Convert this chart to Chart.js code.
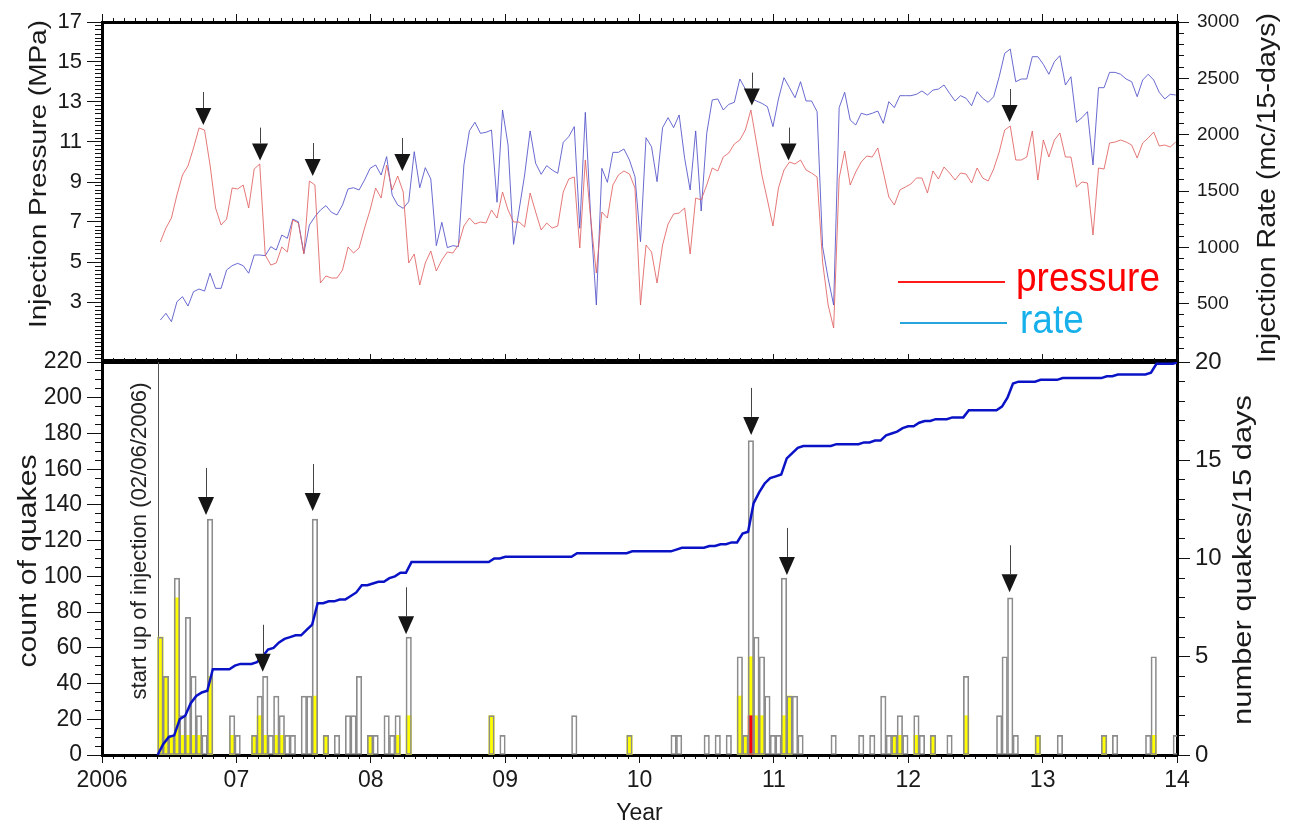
<!DOCTYPE html>
<html>
<head>
<meta charset="UTF-8">
<title>Injection pressure, rate and quakes</title>
<script src="https://cdn.jsdelivr.net/npm/chart.js/dist/chart.umd.min.js"></script>
<style>
  body { margin: 0; background: #fff; }
  #wrap { position: relative; width: 1292px; height: 828px; }
  canvas { position: absolute; left: 0; top: 0; }
</style>
</head>
<body>
<div id="wrap">
  <canvas id="topChart" width="1292" height="828"></canvas>
  <canvas id="bottomChart" width="1292" height="828"></canvas>
</div>
<script>
// ---------- data ----------
const binStart = 2006.414;   // 1 June 2006, start of the 15-day bins
const binDays = 15;

// injection pressure (MPa), one value per 15-day bin
const pressure = [6.0,6.7,7.2,8.35,9.35,9.8,10.7,11.7,11.6,9.85,
  7.7,6.85,7.15,8.7,8.65,8.85,7.7,9.65,9.9,5.35,
  4.85,4.95,5.75,5.5,7.1,6.95,5.4,9.05,8.85,3.95,
  4.3,4.2,4.2,4.6,5.75,5.45,5.7,6.7,7.6,8.7,
  8.2,9.85,8.6,9.3,8.5,4.95,5.4,3.85,4.95,5.55,
  4.55,5.1,5.5,5.45,5.85,6.8,7.2,6.9,7.0,6.95,
  7.6,7.2,8.5,7.6,7.0,7.0,6.75,8.45,7.5,6.6,
  6.95,6.7,6.8,8.5,9.15,9.25,5.7,10.1,7.1,4.45,
  7.5,7.2,8.85,9.35,9.55,9.4,8.7,2.85,5.85,5.5,
  3.95,5.85,6.9,7.4,7.45,7.7,5.4,8.2,8.1,8.85,
  9.7,9.55,10.25,10.45,10.9,11.1,11.6,12.6,11.0,9.35,
  8.1,6.8,8.7,9.6,10.0,9.9,10.1,9.6,9.45,9.25,
  5.0,2.85,1.7,9.2,10.55,8.85,9.5,10.0,10.3,10.25,
  10.7,9.5,8.25,7.85,8.6,8.75,8.9,9.2,9.2,8.45,
  9.55,9.15,9.75,9.45,9.1,9.45,9.4,8.95,9.7,9.2,
  9.05,9.65,10.5,11.6,11.8,10.1,10.1,10.25,11.55,9.1,
  11.1,10.25,11.1,11.45,10.25,10.25,8.75,9.0,8.95,6.35,
  9.7,9.65,10.95,11.0,11.1,11.0,10.85,10.2,10.95,11.2,
  11.5,10.8,10.85,10.75,11.0];

// injection rate (mc/15-days), same bins
const rate = [355,414,340,517,562,479,606,630,612,770,
  636,636,799,837,858,837,770,932,932,926,
  1006,976,1109,1080,1251,1227,947,1198,1272,1331,
  1370,1311,1287,1376,1518,1529,1509,1598,1701,1731,
  1642,1805,1464,1376,1346,1405,1849,1529,1707,1607,
  1015,1222,997,1015,1006,1731,2035,2110,2012,2021,
  2041,1400,2219,1908,1027,1331,1642,2033,1746,1648,
  1725,1686,1657,1932,1982,2071,1169,2198,1243,488,
  1701,1577,1843,1843,1873,1775,1627,1050,1973,1893,
  1583,2062,2151,2062,2175,1790,1509,2033,1322,2012,
  2308,2317,2219,2269,2287,2494,2405,2323,2299,2278,
  2248,2071,2317,2506,2417,2328,2470,2299,2299,2204,
  1006,725,488,2240,2376,2130,2086,2190,2175,2190,
  2210,2101,2293,2240,2346,2346,2346,2358,2388,2352,
  2396,2405,2441,2367,2299,2346,2323,2257,2381,2323,
  2287,2337,2514,2722,2760,2470,2494,2494,2692,2692,
  2624,2536,2648,2701,2441,2514,2110,2151,2204,1731,
  2417,2417,2553,2553,2536,2494,2470,2337,2485,2536,
  2485,2376,2317,2358,2352];

// quakes per 15-day bin (only bins with events)
const quakeBins   = [0,1,2,3,4,5,6,7,8,9, 13,14, 17,18,19,20,21,22,23,24, 26,27,28, 30,32, 34,35,36, 38,39, 41,42,43, 45,
  60,62, 75, 85, 93,94, 99,101,103, 105,106,107,108,109,110,111,112,113,114,115,116,
  122,127,129, 131,132,133,134,135, 137,138, 140, 143, 146, 152,153,154,155, 159,163, 171,173, 179,180, 184];
const quakeTotal  = [6,4,1,9,2,7,4,2,1,12, 2,1, 1,3,4,1,3,2,1,1, 3,3,12, 1,1, 2,2,4, 1,1, 2,1,2, 6,
  2,1, 2, 1, 1,1, 1,1,1, 5,1,16,6,5,3,1,1,9,3,3,1,
  1,1,1, 3,1,1,2,1, 2,1, 1, 1, 4, 2,5,8,1, 1,1, 1,1, 1,5, 1];
const quakeYellow = [6,4,1,8,1,1,1,1,0,4, 1,0, 1,2,1,0,1,1,0,0, 0,0,3, 1,0, 0,0,0, 1,0, 0,0,1, 2,
  2,0, 0, 1, 0,0, 0,0,0, 3,1,5,2,2,0,0,0,2,3,0,0,
  0,0,0, 0,0,1,1,0, 1,0, 1, 0, 2, 0,0,0,0, 1,0, 1,0, 0,1, 0];
const redBins  = [107];
const redCount = [2];

// arrows (year, value at the arrow tip)
const pressureArrowYears = [2006.754, 2007.176, 2007.568, 2008.235, 2010.836, 2011.109, 2012.754];
const pressureArrowTips  = [11.85, 10.07, 9.3, 9.55, 12.82, 10.07, 12.0];
const quakeArrowYears = [2006.774, 2007.196, 2007.568, 2008.263, 2010.831, 2011.097, 2012.754];
const quakeArrowTips  = [134.4, 46.6, 136.6, 67.6, 179.2, 100.8, 91.1];
const injectionStart = 2006.416; // 02/06/2006

// ticks
const yearTicks  = [2006, 2007, 2008, 2009, 2010, 2011, 2012, 2013, 2014];
const yearLabels = ['2006', '07', '08', '09', '10', '11', '12', '13', '14'];
const pressureTicks = [3, 5, 7, 9, 11, 13, 15, 17];
const rateTicks  = [500, 1000, 1500, 2000, 2500, 3000];
const countTicks = [0, 20, 40, 60, 80, 100, 120, 140, 160, 180, 200, 220];
const perBinTicks = [0, 5, 10, 15, 20];

const monthTicks = [];
for (let m = 0; m <= 96; m++) monthTicks.push(2006 + m / 12);
function steps(from, to, step) { const a = []; for (let v = from; v <= to + 1e-9; v += step) a.push(+v.toFixed(3)); return a; }

// ---------- helpers ----------
const FONT = '"Liberation Sans", Arial, sans-serif';
Chart.defaults.font.family = FONT;
Chart.defaults.color = '#111';

const binYear = i => binStart + (i + 0.5) * binDays / 365.25;
const fixedTicks = values => scale => { scale.ticks = values.map(v => ({ value: v })); };
const fixedWidth = w => scale => { scale.width = w; };
const fixedHeight = h => scale => { scale.height = h; };

function xAxis(position, ticks, len, extra) {
  return Object.assign({
    type: 'linear', position: position, min: 2006, max: 2014, offset: false,
    afterBuildTicks: fixedTicks(ticks),
    ticks: { display: false },
    grid: { display: true, drawOnChartArea: false, offset: false, tickLength: len, tickColor: '#111' },
    border: { display: false },
    afterFit: fixedHeight(0)
  }, extra || {});
}
function yAxis(position, min, max, ticks, len, extra) {
  return Object.assign({
    type: 'linear', position: position, min: min, max: max,
    afterBuildTicks: fixedTicks(ticks),
    ticks: { display: false },
    grid: { display: true, drawOnChartArea: false, tickLength: len, tickColor: '#111' },
    border: { display: false },
    afterFit: fixedWidth(0)
  }, extra || {});
}
const frame = { display: true, width: 3, color: '#000' };

// arrows drawn through the chart's scales
const arrowPlugin = {
  id: 'arrows',
  afterDatasetsDraw(chart, args, o) {
    const ctx = chart.ctx, xs = chart.scales[o.xAxis], ys = chart.scales[o.yAxis];
    ctx.save();
    o.years.forEach((yr, i) => {
      const px = xs.getPixelForValue(yr), py = ys.getPixelForValue(o.tips[i]);
      ctx.fillStyle = '#151515';
      ctx.beginPath();
      ctx.moveTo(px, py);
      ctx.lineTo(px - o.half, py - o.head);
      ctx.lineTo(px + o.half, py - o.head);
      ctx.closePath();
      ctx.fill();
      ctx.strokeStyle = '#444';
      ctx.lineWidth = 1;
      ctx.beginPath();
      ctx.moveTo(Math.round(px) + 0.5, py - o.head);
      ctx.lineTo(Math.round(px) + 0.5, py - o.head - o.shaft);
      ctx.stroke();
    });
    ctx.restore();
  }
};

// vertical marker line (start of injection)
const markerPlugin = {
  id: 'marker',
  beforeDatasetsDraw(chart, args, o) {
    if (!o.year) return;
    const ctx = chart.ctx, a = chart.chartArea;
    const px = Math.round(chart.scales.x.getPixelForValue(o.year)) + 0.5;
    ctx.save();
    ctx.strokeStyle = '#555';
    ctx.lineWidth = 1;
    ctx.beginPath();
    ctx.moveTo(px, a.top);
    ctx.lineTo(px, a.bottom);
    ctx.stroke();
    ctx.restore();
  }
};

// axis titles, legend text and legend lines
const textPlugin = {
  id: 'texts',
  afterDraw(chart, args, o) {
    const ctx = chart.ctx;
    (o.lines || []).forEach(l => {
      ctx.save();
      ctx.strokeStyle = l.color;
      ctx.lineWidth = l.width;
      ctx.beginPath();
      ctx.moveTo(l.x1, l.y1);
      ctx.lineTo(l.x2, l.y2);
      ctx.stroke();
      ctx.restore();
    });
    (o.items || []).forEach(t => {
      ctx.save();
      ctx.font = t.size + 'px ' + FONT;
      ctx.fillStyle = t.color || '#1a1a1a';
      ctx.textAlign = t.align || 'center';
      ctx.textBaseline = t.baseline || 'middle';
      ctx.translate(t.x, t.y);
      if (t.rot) ctx.rotate(t.rot * Math.PI / 180);
      const w = ctx.measureText(t.text).width;
      ctx.scale(t.len ? t.len / w : 1, t.sy || 1);
      ctx.fillText(t.text, 0, 0);
      ctx.restore();
    });
  }
};

// ---------- top panel: pressure and rate ----------
new Chart(document.getElementById('topChart'), {
  type: 'line',
  data: {
    datasets: [
      {
        label: 'pressure', yAxisID: 'yP', xAxisID: 'x',
        data: pressure.map((v, i) => ({ x: binYear(i), y: v })),
        borderColor: 'rgba(224,96,96,0.85)', borderWidth: 1, pointRadius: 0, tension: 0, order: 0
      },
      {
        label: 'rate', yAxisID: 'yR', xAxisID: 'x',
        data: rate.map((v, i) => ({ x: binYear(i), y: v })),
        borderColor: 'rgba(80,80,200,0.85)', borderWidth: 1, pointRadius: 0, tension: 0, order: 1
      }
    ]
  },
  options: {
    responsive: false, animation: false,
    layout: { padding: { top: 22, bottom: 828 - 360, left: 0, right: 0 } },
    plugins: {
      legend: { display: false }, tooltip: { enabled: false },
      arrows: { xAxis: 'x', yAxis: 'yP', years: pressureArrowYears, tips: pressureArrowTips, half: 8, head: 17, shaft: 16 },
      texts: {
        lines: [
          { x1: 898, y1: 282, x2: 1005, y2: 282, color: '#ff1a1a', width: 2 },
          { x1: 900, y1: 323, x2: 1007, y2: 323, color: '#27a6de', width: 2 }
        ],
        items: [
          { text: 'Injection Pressure (MPa)', x: 40, y: 174, rot: -90, size: 23, len: 308 },
          { text: 'Injection Rate (mc/15-days)', x: 1268, y: 188, rot: -90, size: 26, len: 350 },
          { text: 'pressure', x: 1016, y: 291, align: 'left', baseline: 'alphabetic', size: 37, sy: 1.1, color: '#ff0000' },
          { text: 'rate', x: 1020, y: 333, align: 'left', baseline: 'alphabetic', size: 37, sy: 1.1, color: '#17b0ea' }
        ]
      }
    },
    scales: {
      x: xAxis('bottom', yearTicks, 0, { border: frame, grid: { display: true, drawOnChartArea: false, drawTicks: false, offset: false }, z: 1 }),
      xTop: xAxis('top', yearTicks, 8, { border: frame, weight: 1, z: 1 }),
      xTopMinor: xAxis('top', monthTicks, 4),
      yP: yAxis('left', 0.1, 17, pressureTicks, 15, {
        weight: 1, z: 1, border: frame, afterFit: fixedWidth(102),
        ticks: { display: true, autoSkip: false, callback: v => String(v), font: { size: 22 }, color: '#1a1a1a', padding: 5 }
      }),
      yPMinor: yAxis('left', 0.1, 17, steps(0.2, 17, 0.2), 7),
      yR: yAxis('right', 0, 3000, rateTicks, 12, {
        weight: 1, z: 1, border: frame, afterFit: fixedWidth(115),
        ticks: { display: true, autoSkip: false, callback: v => String(v), font: { size: 19 }, color: '#1a1a1a', padding: 8 }
      }),
      yRMinor: yAxis('right', 0, 3000, steps(100, 3000, 100), 7)
    }
  },
  plugins: [arrowPlugin, textPlugin]
});

// ---------- bottom panel: quakes ----------
const cumulative = [{ x: binStart, y: 0 }];
let running = 0;
quakeBins.forEach((b, k) => {
  const s = binStart + b * binDays / 365.25;
  cumulative.push({ x: s, y: running });
  running += quakeTotal[k];
  cumulative.push({ x: s + binDays / 365.25, y: running });
});
cumulative.push({ x: 2014, y: running });

const barBase = { type: 'bar', xAxisID: 'x', yAxisID: 'yN', barThickness: 5.5, grouped: false, borderSkipped: false };

new Chart(document.getElementById('bottomChart'), {
  type: 'bar',
  data: {
    datasets: [
      {
        type: 'line', label: 'count of quakes', xAxisID: 'x', yAxisID: 'yC', data: cumulative,
        borderColor: '#0a12c6', borderWidth: 2.5, pointRadius: 0, tension: 0, order: 0
      },
      Object.assign({}, barBase, {
        label: 'all quakes', order: 1,
        data: quakeBins.map((b, k) => ({ x: binYear(b), y: quakeTotal[k] })),
        backgroundColor: 'rgba(0,0,0,0)', borderColor: '#8c8c8c', borderWidth: 1
      }),
      Object.assign({}, barBase, {
        label: 'larger', order: 2,
        data: redBins.map((b, k) => ({ x: binYear(b), y: redCount[k] })),
        backgroundColor: '#ff0000', borderWidth: 0
      }),
      Object.assign({}, barBase, {
        label: 'felt', order: 3,
        data: quakeBins.map((b, k) => ({ x: binYear(b), y: quakeYellow[k] })).filter(p => p.y > 0),
        backgroundColor: '#ffff00', borderWidth: 0
      })
    ]
  },
  options: {
    responsive: false, animation: false,
    layout: { padding: { top: 362, bottom: 0, left: 0, right: 0 } },
    plugins: {
      legend: { display: false }, tooltip: { enabled: false },
      marker: { year: injectionStart },
      arrows: { xAxis: 'x', yAxis: 'yC', years: quakeArrowYears, tips: quakeArrowTips, half: 8, head: 18, shaft: 29 },
      texts: {
        items: [
          { text: 'count of quakes', x: 29, y: 561, rot: -90, size: 26, len: 213 },
          { text: 'number quakes/15 days', x: 1244, y: 560, rot: -90, size: 25, len: 330 },
          { text: 'start up of injection (02/06/2006)', x: 140, y: 541, rot: -90, size: 22, len: 317, color: '#222' }
        ]
      }
    },
    scales: {
      x: xAxis('bottom', yearTicks, 8, {
        weight: 1, z: 1, border: frame, afterFit: fixedHeight(73),
        ticks: { display: true, autoSkip: false, maxRotation: 0, callback: v => yearLabels[yearTicks.indexOf(v)], font: { size: 23 }, color: '#1a1a1a', padding: 4 },
        title: { display: true, text: 'Year', font: { size: 23 }, color: '#1a1a1a', padding: { top: 0, bottom: 1 } }
      }),
      xMinor: xAxis('bottom', monthTicks, 4),
      xTop: xAxis('top', yearTicks, 8, { border: frame, weight: 1, z: 1 }),
      xTopMinor: xAxis('top', monthTicks, 4),
      yC: yAxis('left', 0, 220, countTicks, 15, {
        weight: 1, z: 1, border: frame, afterFit: fixedWidth(102),
        ticks: { display: true, autoSkip: false, callback: v => String(v), font: { size: 23 }, color: '#1a1a1a', padding: 5 }
      }),
      yCMinor: yAxis('left', 0, 220, steps(5, 220, 5), 7),
      yN: yAxis('right', 0, 20, perBinTicks, 13, {
        weight: 1, z: 1, border: frame, afterFit: fixedWidth(115),
        ticks: { display: true, autoSkip: false, callback: v => String(v), font: { size: 24 }, color: '#1a1a1a', padding: 5 }
      }),
      yNMinor: yAxis('right', 0, 20, steps(1, 20, 1), 8)
    }
  },
  plugins: [markerPlugin, arrowPlugin, textPlugin]
});
</script>
</body>
</html>
